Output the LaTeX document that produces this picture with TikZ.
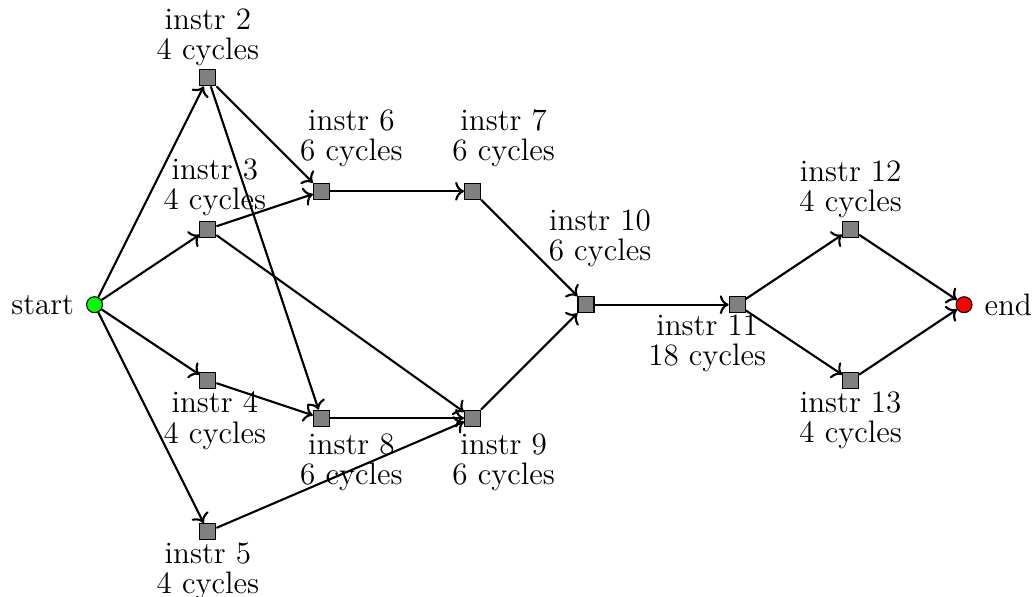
\documentclass[tikz,border=0pt]{standalone}
\usepackage{tikz}
\usetikzlibrary{positioning,arrows.meta}

\begin{document}
\begin{tikzpicture}[x=0.5cm, y=0.5cm,
  op/.style={rectangle, draw, fill=gray, minimum size=6pt, inner sep=0pt},
  term/.style={circle, draw, minimum size=6pt, inner sep=0pt},
  lbl/.style={font=\fontsize{11.7}{11.3}\selectfont, align=center, inner sep=1pt},
  dep/.style={thick, ->}]
\useasboundingbox (0,-7.73) rectangle (27.35,8.06);

% Start and end
\node[term, fill=green, label={[lbl, label distance=3.3pt]left:start}] (start) at (2.5, 0) {};
\node[term, fill=red, label={[lbl, label distance=3.3pt]right:end}] (end) at (25.5, 0) {};

% Instructions
\node[op, label={[lbl]above:instr 2\\4 cycles}] (i2) at (5.5, 6) {};
\node[op, label={[lbl, xshift=2.6pt, yshift=0.7pt]above:instr 3\\4 cycles}] (i3) at (5.5, 2) {};
\node[op, label={[lbl, xshift=2.6pt]below:instr 4\\4 cycles}] (i4) at (5.5, -2) {};
\node[op, label={[lbl]below:instr 5\\4 cycles}] (i5) at (5.5, -6) {};
\node[op, label={[lbl, xshift=11.3pt, yshift=4.9pt]above:instr 6\\6 cycles}] (i6) at (8.5, 3) {};
\node[op, label={[lbl, xshift=11.7pt, yshift=4.9pt]above:instr 7\\6 cycles}] (i7) at (12.5, 3) {};
\node[op, label={[lbl, xshift=11.3pt, yshift=-1.5pt]below:instr 8\\6 cycles}] (i8) at (8.5, -3) {};
\node[op, label={[lbl, xshift=11.7pt, yshift=-1.5pt]below:instr 9\\6 cycles}] (i9) at (12.5, -3) {};
\node[op, label={[lbl, xshift=5.3pt, yshift=9.8pt]above:instr 10\\6 cycles}] (i10) at (15.5, 0) {};
\node[op, label={[lbl, xshift=-11.3pt, yshift=0.7pt]below:instr 11\\18 cycles}] (i11) at (19.5, 0) {};
\node[op, label={[lbl]above:instr 12\\4 cycles}] (i12) at (22.5, 2) {};
\node[op, label={[lbl]below:instr 13\\4 cycles}] (i13) at (22.5, -2) {};

% Dependencies
\draw[dep] (start) -- (i2);
\draw[dep] (start) -- (i3);
\draw[dep] (start) -- (i4);
\draw[dep] (start) -- (i5);
\draw[dep] (i2) -- (i6);
\draw[dep] (i2) -- (i8);
\draw[dep] (i3) -- (i6);
\draw[dep] (i3) -- (i9);
\draw[dep] (i4) -- (i8);
\draw[dep] (i5) -- (i9);
\draw[dep] (i6) -- (i7);
\draw[dep] (i8) -- (i9);
\draw[dep] (i7) -- (i10);
\draw[dep] (i9) -- (i10);
\draw[dep] (i10) -- (i11);
\draw[dep] (i11) -- (i12);
\draw[dep] (i11) -- (i13);
\draw[dep] (i12) -- (end);
\draw[dep] (i13) -- (end);
\end{tikzpicture}
\end{document}
